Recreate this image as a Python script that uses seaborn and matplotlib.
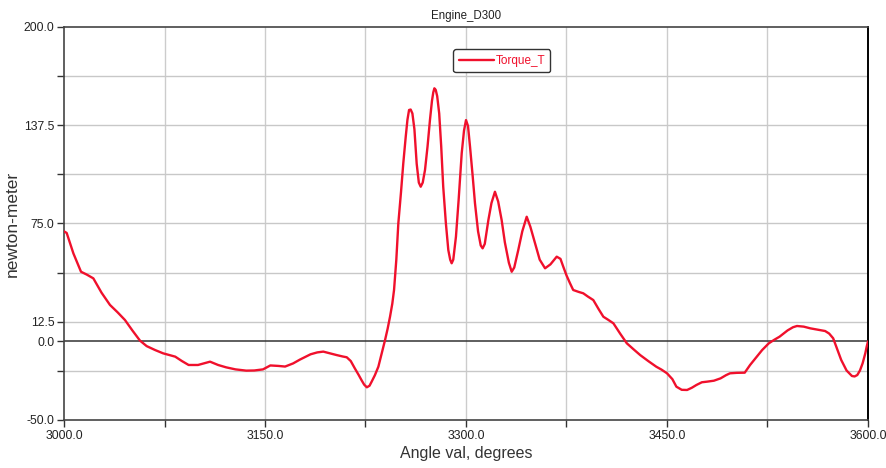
import matplotlib
matplotlib.use("Agg")
import matplotlib.pyplot as plt
import seaborn as sns
import numpy as np
import pandas as pd
from matplotlib.ticker import FixedLocator, FormatStrFormatter

# ---- data ----
angle = [3000, 3002, 3007, 3012.7, 3017, 3021.9, 3028, 3034.3, 3040, 3045.5,
         3051, 3056.7, 3061.7, 3068, 3074, 3083, 3088, 3093, 3100, 3105,
         3109, 3115, 3121, 3128, 3136, 3142, 3148.5, 3154, 3160, 3165,
         3171, 3176, 3184, 3189, 3193.5, 3198, 3203.5, 3208, 3211, 3214,
         3217, 3220, 3222, 3224, 3226, 3228, 3229.6, 3232, 3234.6, 3237,
         3239.6, 3241.5, 3243.3, 3245, 3246.3, 3248, 3249.5, 3251.5, 3253.2, 3255,
         3256.3, 3257.5, 3258.7, 3260, 3261.5, 3263.2, 3264.8, 3266.2, 3267.7, 3269.4,
         3271.3, 3273.1, 3274.6, 3275.6, 3276.4, 3277.4, 3278.5, 3280, 3281.5, 3283,
         3285, 3286.8, 3288.2, 3289.3, 3290.5, 3292.5, 3294.5, 3296.8, 3298.5, 3300,
         3301.5, 3303, 3305, 3306.7, 3309, 3311, 3312.4, 3314, 3316.7, 3319,
         3321.6, 3324, 3326.6, 3329, 3332, 3334.1, 3336, 3339, 3342, 3345.3,
         3348, 3351.5, 3355, 3359, 3363, 3367.7, 3370.5, 3372.6, 3375, 3377.6,
         3380, 3384, 3387.5, 3391, 3395, 3399, 3402.5, 3406, 3410, 3415,
         3420, 3425, 3430, 3436, 3442, 3446, 3450, 3454, 3457, 3461,
         3465, 3468.5, 3472, 3476, 3480, 3485, 3490, 3494, 3497, 3502,
         3508, 3512, 3517, 3521, 3526, 3530, 3534, 3540, 3544, 3547,
         3552, 3557, 3562, 3568, 3571, 3574, 3577, 3580, 3584, 3588,
         3590, 3592, 3594, 3596, 3598, 3599, 3600]
torque = [70, 69, 56, 44.3, 42.5, 40.1, 31, 23.2, 18.5, 13.6,
          7, 0.5, -3, -5.5, -7.6, -9.7, -12.5, -15, -15, -13.8,
          -12.9, -15, -16.5, -17.8, -18.6, -18.5, -17.8, -15.3, -15.6, -16,
          -14, -11.6, -8.2, -7, -6.5, -7.5, -8.7, -9.6, -10.1, -12.5,
          -17.1, -21.5, -24.6, -27.5, -29.2, -28.2, -25.6, -21.5, -16.1, -8,
          0.9, 8, 15.7, 24, 32.7, 52, 75.1, 95, 113.3, 130,
          141, 147.2, 147.5, 145, 135, 113, 101, 98.4, 101, 109,
          124, 140.8, 153, 158.5, 161, 160, 156, 145, 124, 98.4,
          75, 58.1, 52, 49.7, 52, 66.6, 90, 119.7, 134, 140.8,
          137, 123.9, 105, 87.9, 70, 61, 59.2, 62, 77.2, 88,
          95.2, 89, 77.2, 63, 50, 44.3, 47, 58.1, 70, 79.3,
          73, 62.4, 52, 46.5, 49, 53.9, 52.5, 47.5, 42, 37,
          32.7, 31.5, 30.6, 28.5, 26.3, 20.5, 15.7, 13.8, 11.5, 5,
          -1.2, -5, -8.7, -12.5, -16.1, -18, -20.3, -24, -28.8, -30.8,
          -30.9, -29.5, -27.7, -26, -25.6, -25, -23.5, -21.5, -20.3, -20,
          -19.9, -15, -9.7, -5.5, -1.2, 1, 3, 7, 9, 9.8,
          9.4, 8.3, 7.5, 6.6, 5, 2, -5, -11.8, -18.5, -22,
          -22.3, -21.4, -18.5, -13.9, -7.5, -3.4, 0]

x_major = [3000, 3150, 3300, 3450, 3600]
x_minor = [3075, 3225, 3375, 3525]
y_major = [-50, 0, 12.5, 75, 137.5, 200]
y_minor = [-18.75, 43.75, 106.25, 168.75]

title = "Engine_D300"
series_name = "Torque_T"
xlabel = "Angle val, degrees"
ylabel = "newton-meter"

df = pd.DataFrame({"angle": angle, "torque": torque, "series": series_name})

sns.set_style("white")
plt.rcParams["font.family"] = ["Liberation Sans", "DejaVu Sans"]

fig = plt.figure(figsize=(8.87, 4.68), dpi=100)
ax = fig.add_axes([64 / 887, 48 / 468, (868 - 64) / 887, (420 - 27) / 468])

line_color = "#f0102c"

# grid
for gx in np.arange(3075, 3600, 75):
    ax.axvline(gx, color="#cccccc", lw=1.0, zorder=0)
for gy in [-18.75, 12.5, 43.75, 75, 106.25, 137.5, 168.75]:
    ax.axhline(gy, color="#c8c8c8", lw=1.0, zorder=0)
ax.axhline(0, color="#333333", lw=1.1, zorder=1)

sns.lineplot(data=df, x="angle", y="torque", hue="series", palette=[line_color],
             estimator=None, sort=False, linewidth=1.7, ax=ax, zorder=3)

ax.set_xlim(3000, 3600)
ax.set_ylim(-50, 200)

ax.xaxis.set_major_locator(FixedLocator(x_major))
ax.xaxis.set_minor_locator(FixedLocator(x_minor))
ax.yaxis.set_major_locator(FixedLocator(y_major))
ax.yaxis.set_minor_locator(FixedLocator(y_minor))
ax.xaxis.set_major_formatter(FormatStrFormatter("%.1f"))
ax.yaxis.set_major_formatter(FormatStrFormatter("%.1f"))
ax.tick_params(axis="both", which="both", direction="out", length=5, width=1,
               color="#333333", labelsize=8.8, labelcolor="#222222", pad=2)
ax.tick_params(axis="both", which="both", bottom=True, left=True)

for side in ["left", "bottom", "top"]:
    ax.spines[side].set_color("#444444")
    ax.spines[side].set_linewidth(1.2)
ax.spines["right"].set_color("#000000")
ax.spines["right"].set_linewidth(1.4)

ax.set_title(title, fontsize=8.3, pad=6, color="#222222")
ax.set_xlabel(xlabel, fontsize=11.5, labelpad=3, color="#333333")
ax.set_ylabel(ylabel, fontsize=12.5, labelpad=3, color="#333333")

leg = ax.legend(loc="upper left", bbox_to_anchor=(0.477, 0.958), fontsize=8.5,
                handlelength=3.0, handletextpad=0.1, borderpad=0.45,
                frameon=True, fancybox=True, framealpha=1, title=None)
leg.get_frame().set_edgecolor("#333333")
leg.get_frame().set_linewidth(1.0)
for t in leg.get_texts():
    t.set_color(line_color)

fig.savefig("out.png", dpi=100)
